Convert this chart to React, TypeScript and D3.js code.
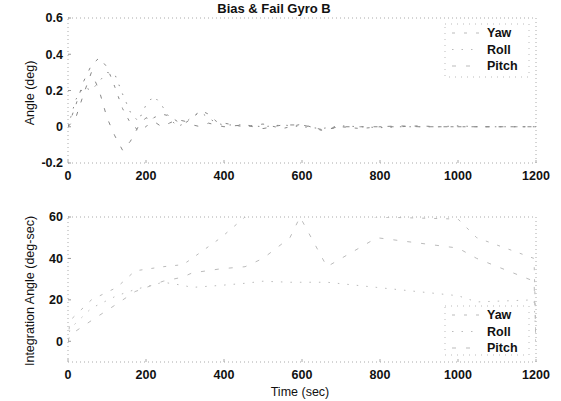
import React from "react";
import * as d3 from "d3";

const xTicks = [0, 200, 400, 600, 800, 1000, 1200];
const angleTicks = [-0.2, 0, 0.2, 0.4, 0.6];
const angleTickLabels = ["-0.2", "0", "0.2", "0.4", "0.6"];
const intTicks = [0, 20, 40, 60];
const seriesNames = ["Yaw", "Roll", "Pitch"];

const angleTime = [0, 20, 40, 60, 80, 100, 120, 140, 160, 180, 200, 220, 240, 260, 280, 300, 320, 340, 360, 380, 400, 450, 500, 550, 600, 650, 700, 750, 800, 850, 900, 950, 1000, 1050, 1100, 1150, 1200];
const angleYaw = [0, 0.12, 0.25, 0.34, 0.38, 0.33, 0.22, 0.1, 0.02, -0.02, 0.0, 0.05, 0.07, 0.06, 0.03, 0.02, 0.05, 0.09, 0.07, 0.03, 0.02, 0.0, 0.015, -0.01, 0.015, -0.02, 0.0, -0.01, 0.0, 0.0, 0.005, 0.0, 0.0, 0.0, 0.0, 0.0, 0.0];
const angleRoll = [0, 0.15, 0.22, 0.2, 0.25, 0.3, 0.29, 0.18, 0.08, 0.03, 0.12, 0.17, 0.12, 0.05, 0.0, 0.02, 0.06, 0.08, 0.05, 0.02, 0.01, 0.01, 0.0, 0.01, 0.0, -0.01, 0.005, 0.0, -0.005, 0.0, 0.0, 0.0, 0.005, 0.0, 0.0, 0.0, 0.0];
const anglePitch = [0, 0.05, 0.18, 0.3, 0.2, 0.05, -0.05, -0.13, -0.08, 0.0, 0.05, 0.03, 0.0, 0.02, 0.04, 0.03, 0.01, 0.0, 0.02, 0.01, 0.0, 0.01, -0.01, 0.01, 0.01, -0.015, 0.0, 0.0, 0.0, 0.005, 0.0, 0.0, 0.0, 0.0, 0.0, 0.0, 0.0];

const intTime = [0, 5, 60, 125, 172, 244, 295, 318, 392, 454, 500, 569, 595, 664, 792, 1000, 1048, 1195, 1200];
const intYaw = [0, 10, 20, 26, 34, 36, 37, 40, 50, 60, 62, 62, 62, 62, 60, 59, 50, 40, 0];
const intRoll = [0, 6, 16, 22, 25, 28.5, 27, 26, 27, 28, 29, 28.5, 28.5, 28.5, 26, 22, 19, 20, 0];
const intPitch = [0, 3, 10, 18, 24, 29, 31, 33, 35, 36, 40, 50, 60, 36, 50, 45, 40, 29, 0];

const W = 561;
const H = 401;
const x = d3.scaleLinear().domain([0, 1200]).range([68, 536]);
const yTop = d3.scaleLinear().domain([-0.2, 0.6]).range([163, 18]);
const yBot = d3.scaleLinear().domain([-10, 60]).range([362, 217]);

const dashes = ["3 9", "1.5 8", "4 10"];
const font = "'Liberation Sans', Arial, sans-serif";

function Panel({ y, time, series, ticks, tickLabels, clipId, legendTop, lineColor }: any) {
  const [y0, y1] = y.range();
  const line = d3.line<number>();
  return (
    <g>
      <defs>
        <clipPath id={clipId}>
          <rect x={68} y={y1} width={468} height={y0 - y1} />
        </clipPath>
      </defs>
      <rect x={68} y={y1} width={468} height={y0 - y1} fill="none" stroke="#aaa" strokeWidth={1} strokeDasharray="1 3" />
      <g clipPath={`url(#${clipId})`}>
        {series.map((vals: number[], i: number) => (
          <path
            key={i}
            d={line(time.map((t: number, k: number) => [x(t), y(vals[k])]) as any) || ""}
            fill="none"
            stroke={lineColor}
            strokeWidth={1}
            strokeDasharray={dashes[i]}
          />
        ))}
      </g>
      {ticks.map((t: number, i: number) => (
        <g key={i}>
          <line x1={68} x2={71} y1={y(t)} y2={y(t)} stroke="#999" />
          <text x={63} y={y(t)} dy="0.35em" textAnchor="end" fontSize={12.5} fontWeight="bold" fontFamily={font} fill="#111">
            {tickLabels ? tickLabels[i] : String(t)}
          </text>
        </g>
      ))}
      {xTicks.map((t) => (
        <g key={t}>
          <line x1={x(t)} x2={x(t)} y1={y0} y2={y0 - 3} stroke="#aaa" />
          <text x={x(t)} y={y0 + 13} dy="0.35em" textAnchor="middle" fontSize={12.5} fontWeight="bold" fontFamily={font} fill="#111">
            {t}
          </text>
        </g>
      ))}
      <g>
        <rect x={445} y={legendTop} width={84} height={legendTop > 100 ? 49 : 53} fill="white" stroke="#bbb" strokeDasharray="1 5" />
        {seriesNames.map((n, i) => (
          <g key={n}>
            <line x1={452} x2={480} y1={legendTop + 9 + i * 16.5} y2={legendTop + 9 + i * 16.5} stroke="#bbb" strokeDasharray={dashes[i]} />
            <text x={487} y={legendTop + 9 + i * 16.5} dy="0.35em" fontSize={12.5} fontWeight="bold" fontFamily={font} fill="#111">
              {n}
            </text>
          </g>
        ))}
      </g>
    </g>
  );
}

export default function App() {
  return (
    <svg width={W} height={H} style={{ position: "absolute", left: 0, top: 0, background: "white" }}>
      <rect width={W} height={H} fill="white" />
      <text x={274} y={8} dy="0.35em" textAnchor="middle" fontSize={13} fontWeight="bold" fontFamily={font} fill="#111">
        Bias &amp; Fail Gyro B
      </text>
      <Panel y={yTop} time={angleTime} series={[angleYaw, angleRoll, anglePitch]} ticks={angleTicks} tickLabels={angleTickLabels} clipId="cTop" legendTop={24} lineColor="#888" />
      <Panel y={yBot} time={intTime} series={[intYaw, intRoll, intPitch]} ticks={intTicks} clipId="cBot" legendTop={306} lineColor="#bbb" />
      <text transform="translate(30,93) rotate(-90)" dy="0.35em" textAnchor="middle" fontSize={12.5} fontFamily={font} fill="#111">
        Angle (deg)
      </text>
      <text transform="translate(30,291) rotate(-90)" dy="0.35em" textAnchor="middle" fontSize={12.5} fontFamily={font} fill="#111">
        Integration Angle (deg-sec)
      </text>
      <text x={300} y={392} dy="0.35em" textAnchor="middle" fontSize={12.5} fontFamily={font} fill="#111">
        Time (sec)
      </text>
    </svg>
  );
}
